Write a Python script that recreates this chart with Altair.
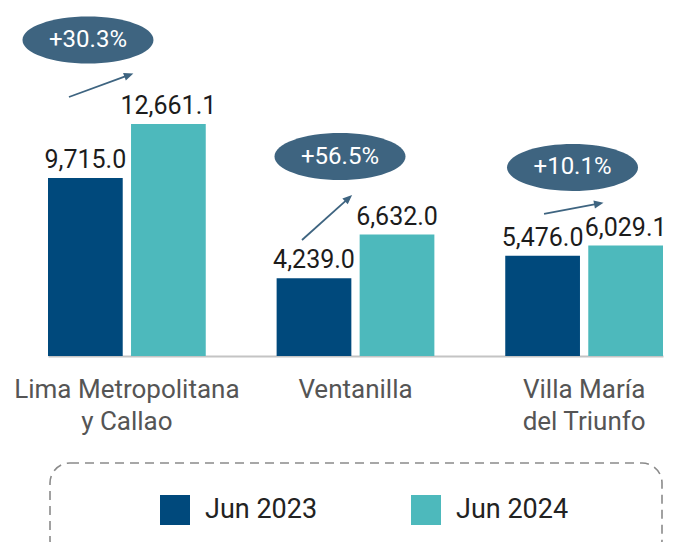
import altair as alt
import pandas as pd
import math

# ---- data ----
categories = ["Lima Metropolitana\ny Callao", "Ventanilla", "Villa María\ndel Triunfo"]
series = ["Jun 2023", "Jun 2024"]
values_2023 = [9715.0, 4239.0, 5476.0]
values_2024 = [12661.1, 6632.0, 6029.1]
growth_labels = ["+30.3%", "+56.5%", "+10.1%"]
colors = ["#00497c", "#4db9bc"]
badge_color = "#3e6480"

rows = []
for c, a, b in zip(categories, values_2023, values_2024):
    rows.append({"category": c, "series": series[0], "value": a})
    rows.append({"category": c, "series": series[1], "value": b})
df = pd.DataFrame(rows)

# ---- annotation layout (pixel offsets from the top-centre of each group) ----
ellipse_offsets = [(-38.9, -84.1), (-15.5, -78.0), (-11.6, -78.1)]
arrow_starts = [(-57.9, -27.1), (-53.5, 5.5), (-40.1, -31.6)]
arrow_ends = [(5.1, -50.1), (-4.5, -38.5), (17.9, -42.6)]
RX, RY = 65.5, 23.5
K = 0.5523


def f(v):
    return f"{v:.2f}"


def ellipse_path(cx, cy):
    return (
        f"M {f(cx-RX)} {f(cy)} "
        f"C {f(cx-RX)} {f(cy-K*RY)} {f(cx-K*RX)} {f(cy-RY)} {f(cx)} {f(cy-RY)} "
        f"C {f(cx+K*RX)} {f(cy-RY)} {f(cx+RX)} {f(cy-K*RY)} {f(cx+RX)} {f(cy)} "
        f"C {f(cx+RX)} {f(cy+K*RY)} {f(cx+K*RX)} {f(cy+RY)} {f(cx)} {f(cy+RY)} "
        f"C {f(cx-K*RX)} {f(cy+RY)} {f(cx-RX)} {f(cy+K*RY)} {f(cx-RX)} {f(cy)} Z"
    )


def arrow_paths(s, e):
    vx, vy = e[0] - s[0], e[1] - s[1]
    L = math.hypot(vx, vy)
    ux, uy = vx / L, vy / L
    px, py = -uy, ux
    line = f"M {f(s[0])} {f(s[1])} L {f(e[0]-5*ux)} {f(e[1]-5*uy)}"
    tip = (e[0] + 1.5 * ux, e[1] + 1.5 * uy)
    bc = (e[0] - 8 * ux, e[1] - 8 * uy)
    head = (
        f"M {f(tip[0])} {f(tip[1])} L {f(bc[0]+4*px)} {f(bc[1]+4*py)} "
        f"L {f(bc[0]-4*px)} {f(bc[1]-4*py)} Z"
    )
    return line, head


ann_rows = []
for i, c in enumerate(categories):
    ln, hd = arrow_paths(arrow_starts[i], arrow_ends[i])
    ann_rows.append({
        "category": c,
        "anchor": values_2024[i],
        "label": growth_labels[i],
        "ell": ellipse_path(*ellipse_offsets[i]),
        "line": ln,
        "head": hd,
    })
ann = pd.DataFrame(ann_rows)

# ---- scales ----
xscale = alt.Scale(domain=categories, paddingInner=0.31, paddingOuter=0)
yscale = alt.Scale(domain=[0, 19000], nice=False, zero=True)

x_axis = alt.Axis(
    title=None,
    labelExpr="split(datum.label, '\\n')",
    labelFont="Roboto",
    labelFontSize=26,
    labelColor="#555555",
    labelPadding=20,
    labelLineHeight=32,
    labelAngle=0,
    labelLimit=400,
    labelOverlap=False,
    ticks=False,
    tickSize=0,
    domainColor="#c4c4c4",
    domainWidth=2,
    grid=False,
)

X = alt.X("category:N", sort=categories, scale=xscale, axis=x_axis)
X_plain = alt.X("category:N", sort=categories, scale=xscale)
XO = alt.XOffset("series:N", sort=series,
                 scale=alt.Scale(domain=series, paddingInner=0.1, paddingOuter=0))

bars = alt.Chart(df).mark_bar().encode(
    x=X,
    xOffset=XO,
    y=alt.Y("value:Q", scale=yscale, axis=None),
    color=alt.Color(
        "series:N",
        scale=alt.Scale(domain=series, range=colors),
        legend=alt.Legend(
            title=None,
            orient="none",
            legendX=112,
            legendY=487,
            direction="horizontal",
            symbolType="square",
            symbolSize=900,
            symbolStrokeWidth=0,
            symbolOpacity=1,
            labelFont="Roboto",
            labelFontSize=27,
            labelColor="#222222",
            labelOffset=15,
            labelLimit=300,
            columnPadding=93,
            padding=0,
        ),
    ),
)

value_labels = alt.Chart(df).mark_text(
    font="Roboto", fontSize=25, color="#1c1c1c", baseline="alphabetic", dy=-10
).encode(
    x=X_plain,
    xOffset=XO,
    y=alt.Y("value:Q", scale=yscale, axis=None),
    text=alt.Text("value:Q", format=",.1f"),
)

ann_base = alt.Chart(ann).encode(
    x=X_plain,
    y=alt.Y("anchor:Q", scale=yscale, axis=None),
)

ellipses = ann_base.mark_point(filled=True, opacity=1, size=4, color=badge_color,
                               strokeWidth=0).encode(
    shape=alt.Shape("ell:N", scale=None)
)
arrow_lines = ann_base.mark_point(filled=False, opacity=1, size=4, color=badge_color,
                                  strokeWidth=1.8).encode(
    shape=alt.Shape("line:N", scale=None)
)
arrow_heads = ann_base.mark_point(filled=True, opacity=1, size=4, color=badge_color,
                                  strokeWidth=0).encode(
    shape=alt.Shape("head:N", scale=None)
)

badge_texts = []
for i, c in enumerate(categories):
    dx, dy = ellipse_offsets[i]
    badge_texts.append(
        ann_base.transform_filter(alt.datum.category == c).mark_text(
            font="Roboto", fontSize=24, color="white", baseline="middle",
            align="center", dx=dx, dy=dy
        ).encode(text="label:N")
    )

legend_box = alt.Chart(pd.DataFrame({"k": [0]})).mark_rect(
    filled=False, stroke="#8a8a8a", strokeWidth=1.6, strokeDash=[9, 6], cornerRadius=20
).encode(
    x=alt.value(2), x2=alt.value(614), y=alt.value(455), y2=alt.value(552)
)

chart = alt.layer(
    bars, value_labels, ellipses, arrow_lines, arrow_heads, *badge_texts, legend_box
).properties(
    width=615,
    height=348,
    padding={"left": 40, "top": 0, "right": 9, "bottom": 186},
    autosize=alt.AutoSizeParams(type="none"),
).configure_view(strokeWidth=0)

chart.save("out.html", embed_options={"renderer": "svg", "actions": False})
